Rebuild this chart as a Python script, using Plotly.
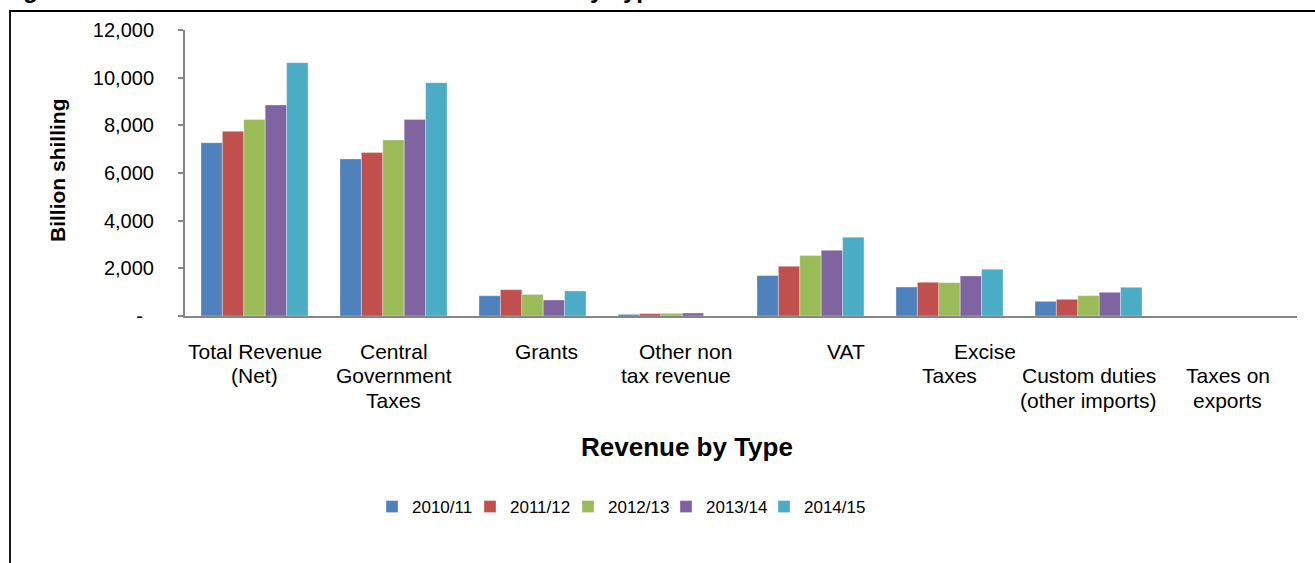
import plotly.graph_objects as go

# Revenue categories and the label lines drawn under each group
categories = [
    "Total Revenue (Net)",
    "Central Government Taxes",
    "Grants",
    "Other non tax revenue",
    "VAT",
    "Excise Taxes",
    "Custom duties (other imports)",
    "Taxes on exports",
]
category_lines = [
    ["Total Revenue", "(Net)"],
    ["Central", "Government", "Taxes"],
    ["Grants"],
    ["Other non", "tax revenue"],
    ["VAT"],
    ["Excise", "Taxes"],
    ["Custom duties", "(other imports)"],
    ["Taxes on", "exports"],
]

years = ["2010/11", "2011/12", "2012/13", "2013/14", "2014/15"]

# Billion shilling, one list per fiscal year
rev_2010_11 = [7270, 6590, 850, 70, 1695, 1215, 615, 0]
rev_2011_12 = [7750, 6855, 1105, 100, 2085, 1415, 700, 0]
rev_2012_13 = [8250, 7385, 905, 110, 2535, 1400, 855, 0]
rev_2013_14 = [8855, 8250, 670, 125, 2755, 1680, 995, 0]
rev_2014_15 = [10630, 9790, 1050, 0, 3305, 1960, 1205, 0]
series = [rev_2010_11, rev_2011_12, rev_2012_13, rev_2013_14, rev_2014_15]

y_ticks = [0, 2000, 4000, 6000, 8000, 10000, 12000]

# ---- styling / layout ----
colors = ["#4F81BD", "#C0504D", "#9BBB59", "#8064A2", "#4BACC6"]
FONT = "Arial, 'Liberation Sans', sans-serif"
W, H = 1315, 563
M_L, M_R, M_T, M_B = 185, 18, 30, 247
PW, PH = W - M_L - M_R, H - M_T - M_B


def px_x(px):
    return (px - M_L) / PW


def px_y(py):
    return (H - M_B - py) / PH


# horizontal nudge (px) per label line, first row index per category
line_nudge = [[0, 0], [0, 0, 0], [14], [14, 4], [35], [35, 0], [0, 0], [0, 0]]
first_row = [0, 0, 0, 0, 0, 0, 1, 1]
ROW_PITCH = 24.5
ROW0_OFFSET = 35

# one single-entry legend per year, laid out in a row
LEGEND_FIRST_TEXT_PX = 414
LEGEND_PITCH = 98
legend_names = ["legend", "legend2", "legend3", "legend4", "legend5"]

fig = go.Figure()
for name, vals, col, lg in zip(years, series, colors, legend_names):
    fig.add_trace(go.Bar(
        name=name,
        x=categories,
        y=vals,
        legend=lg,
        marker=dict(color=col, line=dict(color="rgba(255,255,255,0.55)", width=0.6)),
    ))

annotations = []
for cat, lines, nudges, r0 in zip(categories, category_lines, line_nudge, first_row):
    for i, (txt, dx) in enumerate(zip(lines, nudges)):
        annotations.append(dict(
            x=cat, xref="x", y=0, yref="paper",
            text=txt, showarrow=False,
            xanchor="center", yanchor="middle",
            xshift=dx, yshift=-(ROW0_OFFSET + (r0 + i) * ROW_PITCH),
            font=dict(family=FONT, size=21, color="#000000"),
        ))

# axis titles
annotations.append(dict(
    x=px_x(687), y=px_y(447), xref="paper", yref="paper",
    text="<b>Revenue by Type</b>", showarrow=False,
    xanchor="center", yanchor="middle",
    font=dict(family=FONT, size=26, color="#000000"),
))
annotations.append(dict(
    x=px_x(57), y=px_y(170), xref="paper", yref="paper",
    text="<b>Billion shilling</b>", showarrow=False, textangle=-90,
    xanchor="center", yanchor="middle",
    font=dict(family=FONT, size=21, color="#000000"),
))
# figure caption running off the top edge
annotations.append(dict(
    x=px_x(0), y=px_y(5), xref="paper", yref="paper",
    text="<b>Figure 2.1: Trend of Central Government Revenue by Type</b>",
    showarrow=False, xanchor="left", yanchor="bottom",
    font=dict(family=FONT, size=24, color="#000000"),
))

legend_layouts = {}
for k, lg in enumerate(legend_names):
    text_px = LEGEND_FIRST_TEXT_PX + k * LEGEND_PITCH
    legend_layouts[lg] = dict(
        orientation="h", x=px_x(text_px - 42), y=px_y(507),
        xanchor="left", yanchor="middle",
        font=dict(family=FONT, size=17, color="#000000"),
        itemwidth=30, bgcolor="rgba(0,0,0,0)",
    )

fig.update_layout(
    width=W, height=H,
    margin=dict(l=M_L, r=M_R, t=M_T, b=M_B),
    paper_bgcolor="white", plot_bgcolor="white",
    barmode="group", bargap=0.23, bargroupgap=0,
    font=dict(family=FONT, size=20, color="#000000"),
    showlegend=True,
    annotations=annotations,
    shapes=[dict(
        type="rect", xref="paper", yref="paper",
        x0=px_x(10), x1=px_x(1340), y0=px_y(620), y1=px_y(11),
        line=dict(color="#000000", width=1.8), fillcolor="rgba(0,0,0,0)",
        layer="above",
    )],
    **legend_layouts,
)

fig.update_xaxes(
    type="category", showticklabels=False, ticks="",
    showline=True, linecolor="#868686", linewidth=2,
    showgrid=False, zeroline=False,
)
fig.update_yaxes(
    range=[0, 12000],
    tickvals=y_ticks,
    ticktext=[f"{v:,}" if v else "-\u00a0\u00a0" for v in y_ticks],
    ticks="outside", ticklen=5, tickwidth=1.5, tickcolor="#868686",
    ticklabelstandoff=20,
    showline=True, linecolor="#868686", linewidth=2,
    showgrid=False, zeroline=False,
    tickfont=dict(family=FONT, size=20, color="#000000"),
)

fig.write_html("out.html")
